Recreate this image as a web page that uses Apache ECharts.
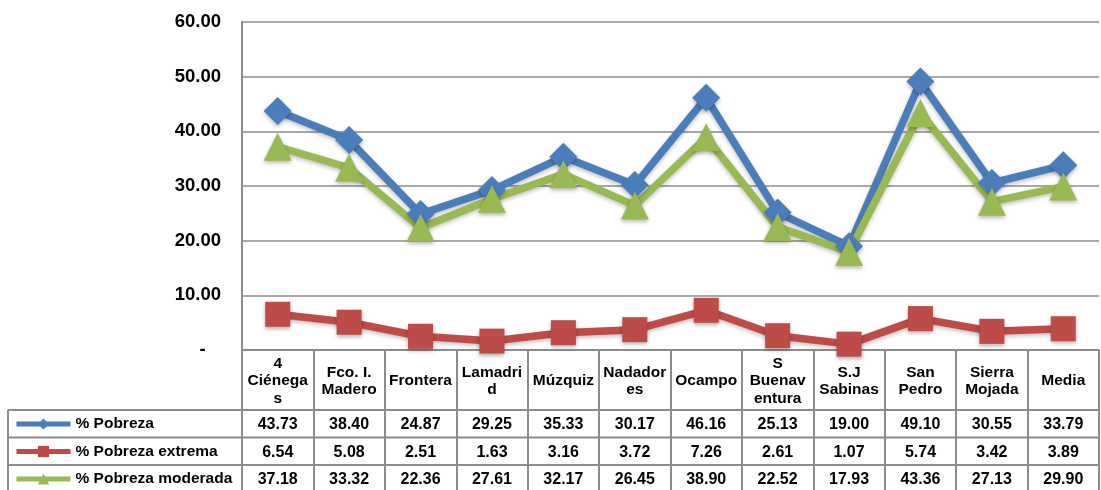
<!DOCTYPE html>
<html>
<head>
<meta charset="utf-8">
<script src="https://cdn.jsdelivr.net/npm/echarts@6/dist/echarts.min.js"></script>
<style>
  html, body { margin: 0; padding: 0; background: #fff; }
  #chart { width: 1101px; height: 490px; }
</style>
</head>
<body>
<div id="chart"></div>
<script>
var categorias = ['4\nCiénega\ns', 'Fco. I.\nMadero', 'Frontera', 'Lamadri\nd', 'Múzquiz', 'Nadador\nes',
    'Ocampo', 'S\nBuenav\nentura', 'S.J\nSabinas', 'San\nPedro', 'Sierra\nMojada', 'Media']
var pobreza = [43.73, 38.40, 24.87, 29.25, 35.33, 30.17, 46.16, 25.13, 19.00, 49.10, 30.55, 33.79]
var pobrezaExtrema = [6.54, 5.08, 2.51, 1.63, 3.16, 3.72, 7.26, 2.61, 1.07, 5.74, 3.42, 3.89]
var pobrezaModerada = [37.18, 33.32, 22.36, 27.61, 32.17, 26.45, 38.90, 22.52, 17.93, 43.36, 27.13, 29.90]
var nombres = ['% Pobreza', '% Pobreza extrema', '% Pobreza moderada']
var yTicks = [0, 10, 20, 30, 40, 50, 60]

var fuente = 'Liberation Sans, Arial, sans-serif'
var gris = '#8c8c8c'
var plotBottom = 350   // y del eje x
var headerH = 60       // alto de la fila de nombres
var rowH = 27.5        // alto de cada fila de valores
var tablaIzq = 8

var chart = echarts.init(document.getElementById('chart'))

// ejes x extra que hacen de filas de la tabla
function filaEje(valores, idx) {
    return {
        type: 'category',
        data: categorias,
        position: 'bottom',
        offset: headerH + idx * rowH,
        axisLine: { show: false },
        axisTick: { show: false },
        axisLabel: {
            interval: 0,
            margin: rowH / 2 + 1,
            verticalAlign: 'middle',
            fontFamily: fuente,
            fontWeight: 'bold',
            fontSize: 16,
            color: '#000',
            formatter: function (v, i) {
                return valores[i].toFixed(2)
            }
        }
    }
}

function serie(nombre, datos, color, simbolo, tam) {
    return {
        name: nombre,
        type: 'line',
        data: datos,
        symbol: simbolo,
        symbolSize: tam,
        color: color,
        lineStyle: { width: 7.5, color: color, shadowBlur: 4, shadowColor: 'rgba(0,0,0,0.25)', shadowOffsetY: 2 },
        itemStyle: { color: color, shadowBlur: 4, shadowColor: 'rgba(0,0,0,0.3)', shadowOffsetY: 2 },
        emphasis: { disabled: true }
    }
}

// lineas horizontales de la tabla
var lineas = []
for (var k = 0; k < 3; k++) {
    var y = plotBottom + headerH + k * rowH
    lineas.push({
        type: 'line',
        shape: { x1: tablaIzq, y1: y, x2: 1099, y2: y },
        style: { stroke: gris, lineWidth: 2 }
    })
}
lineas.push({
    type: 'line',
    shape: { x1: tablaIzq, y1: plotBottom + headerH, x2: tablaIzq, y2: 490 },
    style: { stroke: gris, lineWidth: 2 }
})

var option = {
    backgroundColor: '#fff',
    animation: false,
    grid: { left: 242, right: 2, top: 22, bottom: 490 - plotBottom },
    legend: {
        data: nombres,
        orient: 'vertical',
        left: 14,
        top: plotBottom + headerH + 6,
        height: 120,
        padding: 0,
        itemWidth: 54,
        itemHeight: 14,
        itemGap: 11.5,
        lineStyle: { width: 5, shadowBlur: 0 },
        itemStyle: { shadowBlur: 0 },
        textStyle: { fontFamily: fuente, fontWeight: 'bold', fontSize: 15.5, lineHeight: 14, color: '#000' }
    },
    xAxis: [{
        type: 'category',
        data: categorias,
        position: 'bottom',
        boundaryGap: true,
        axisLine: { show: true, lineStyle: { color: gris, width: 2 } },
        axisTick: { show: true, interval: 0, length: 490 - plotBottom, lineStyle: { color: gris, width: 2 } },
        axisLabel: {
            interval: 0,
            margin: headerH / 2 + 1,
            verticalAlign: 'middle',
            lineHeight: 17.5,
            fontFamily: fuente,
            fontWeight: 'bold',
            fontSize: 15.5,
            color: '#000'
        }
    },
        filaEje(pobreza, 0),
        filaEje(pobrezaExtrema, 1),
        filaEje(pobrezaModerada, 2)
    ],
    yAxis: {
        type: 'value',
        min: yTicks[0],
        max: yTicks[yTicks.length - 1],
        interval: 10,
        axisLine: { show: true, lineStyle: { color: gris, width: 2 } },
        axisTick: { show: false },
        splitLine: { lineStyle: { color: gris, width: 1.5 } },
        axisLabel: {
            margin: 21,
            fontFamily: fuente,
            fontWeight: 'bold',
            fontSize: 18.5,
            color: '#000',
            formatter: function (v) {
                return v === 0 ? '-   ' : v.toFixed(2)
            }
        }
    },
    series: [
        serie(nombres[0], pobreza, '#4a7ebb', 'diamond', 28),
        serie(nombres[1], pobrezaExtrema, '#be4b48', 'rect', 25),
        serie(nombres[2], pobrezaModerada, '#98b954', 'triangle', 28)
    ],
    graphic: lineas
}

chart.setOption(option)
</script>
</body>
</html>
